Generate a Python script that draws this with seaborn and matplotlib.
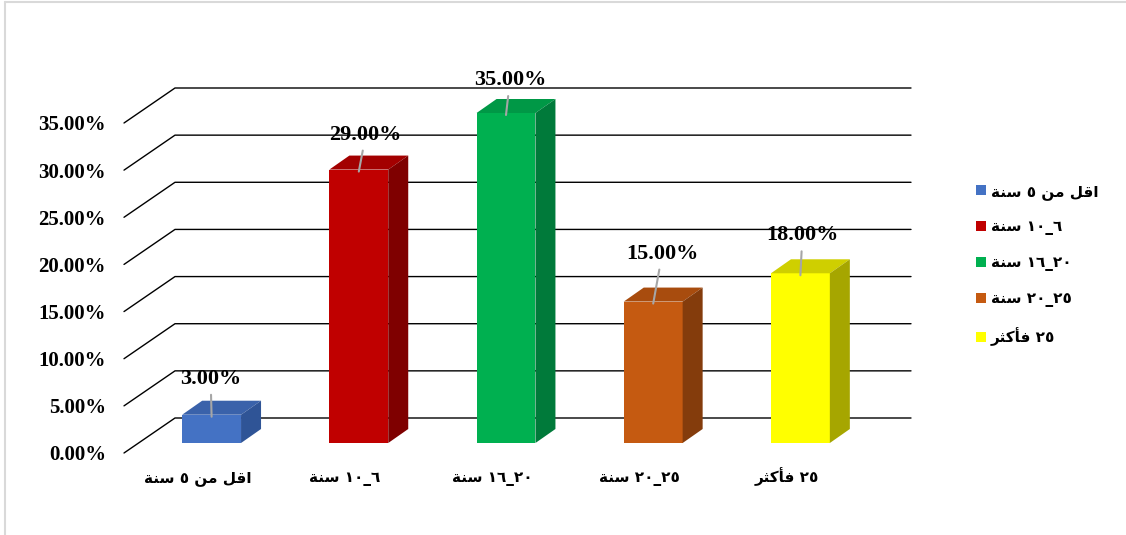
import numpy as np
import pandas as pd
import matplotlib
matplotlib.use("Agg")
import matplotlib.pyplot as plt
import seaborn as sns
from matplotlib.patches import Polygon, Patch
from matplotlib.lines import Line2D

# ---------------- data ----------------
categories = ["اقل من ٥ سنة", "٦_١٠ سنة", "٢٠_١٦ سنة", "٢٥_٢٠ سنة", "٢٥ فأكثر"]
values = [0.03, 0.29, 0.35, 0.15, 0.18]
yticks = [0.00, 0.05, 0.10, 0.15, 0.20, 0.25, 0.30, 0.35]

# ---------------- styles ----------------
front_colors = ["#4472C4", "#C00000", "#00B050", "#C55A11", "#FFFF00"]
top_colors = ["#3A62AA", "#A30000", "#009846", "#A84C0E", "#CFCF00"]
side_colors = ["#2F5496", "#7F0000", "#007A3A", "#843C0C", "#A6A600"]
label_offsets_px = [(-1, 38), (7, 37), (4, 35), (9, 50), (2, 40)]

# ---------------- minimal Arabic shaping / visual ordering ----------------
FORMS = {  # isolated, final, initial, medial
    'ا': ('\uFE8D', '\uFE8E', None, None),
    'أ': ('\uFE83', '\uFE84', None, None),
    'ة': ('\uFE93', '\uFE94', None, None),
    'ر': ('\uFEAD', '\uFEAE', None, None),
    'ق': ('\uFED5', '\uFED6', '\uFED7', '\uFED8'),
    'ل': ('\uFEDD', '\uFEDE', '\uFEDF', '\uFEE0'),
    'م': ('\uFEE1', '\uFEE2', '\uFEE3', '\uFEE4'),
    'ن': ('\uFEE5', '\uFEE6', '\uFEE7', '\uFEE8'),
    'س': ('\uFEB1', '\uFEB2', '\uFEB3', '\uFEB4'),
    'ف': ('\uFED1', '\uFED2', '\uFED3', '\uFED4'),
    'ك': ('\uFED9', '\uFEDA', '\uFEDB', '\uFEDC'),
    'ث': ('\uFE99', '\uFE9A', '\uFE9B', '\uFE9C'),
}


def shape_word(w):
    out = []
    for i, c in enumerate(w):
        f = FORMS.get(c)
        if f is None:
            out.append(c)
            continue
        prev = w[i - 1] if i > 0 else None
        nxt = w[i + 1] if i + 1 < len(w) else None
        jp = prev in FORMS and FORMS[prev][2] is not None
        jn = f[2] is not None and nxt in FORMS
        if jp and jn:
            g = f[3]
        elif jp:
            g = f[1]
        elif jn:
            g = f[2]
        else:
            g = f[0]
        out.append(g)
    return ''.join(reversed(out))


def visual(s):
    runs = []
    for c in s:
        if c in FORMS:
            kind = 'a'
        elif '\u0660' <= c <= '\u0669':
            kind = 'd'
        else:
            kind = 'o'
        if runs and runs[-1][0] == kind and kind in ('a', 'd'):
            runs[-1][1] += c
        else:
            runs.append([kind, c])
    parts = []
    for kind, txt in reversed(runs):
        parts.append(shape_word(txt) if kind == 'a' else txt)
    return ''.join(parts)


# ---------------- figure ----------------
W, H, DPI = 1126, 535, 100
sns.set_theme(style="white")
plt.rcParams['font.family'] = ['DejaVu Sans']
plt.rcParams['text.color'] = 'black'
plt.rcParams['xtick.color'] = 'black'
plt.rcParams['ytick.color'] = 'black'
fig = plt.figure(figsize=(W / DPI, H / DPI), dpi=DPI)
fig.patch.set_facecolor("white")

ax_left, ax_right, ax_top, ax_bottom = 124, 860, 123, 453
ax = fig.add_axes([ax_left / W, 1 - ax_bottom / H,
                   (ax_right - ax_left) / W, (ax_bottom - ax_top) / H])
ax.set_facecolor("none")

df = pd.DataFrame({"cat": categories, "val": values})
sns.barplot(data=df, x="cat", y="val", hue="cat", palette=front_colors,
            saturation=1, width=0.4, ax=ax, legend=False, zorder=3,
            edgecolor="none")

ax.set_xlim(-0.5, len(categories) - 0.5)
ax.set_ylim(0, 0.35)

# pixel -> data unit conversion
ux = (len(categories)) / (ax_right - ax_left)
uy = 0.35 / (ax_bottom - ax_top)

wall_dx, wall_dy = 51 * ux, 35 * uy      # full depth of the chart box
bar_ox, bar_oy = 14 * ux, 10 * uy        # offset of bar front face
bar_dx, bar_dy = 20 * ux, 14 * uy        # bar depth

x0, x1 = ax.get_xlim()
# gridlines: diagonal on left wall + horizontal on back wall
for t in yticks:
    ax.add_line(Line2D([x0, x0 + wall_dx, x1 + wall_dx], [t, t + wall_dy, t + wall_dy],
                       color="black", lw=1.0, zorder=1, clip_on=False))

ax.set_yticks(yticks)
ax.set_yticklabels([f"{t * 100:.2f}%" for t in yticks],
                   fontfamily=["Liberation Serif", "DejaVu Sans"],
                   fontweight="bold", fontsize=15, color="black")
ax.set_xticks(range(len(categories)))
ax.set_xticklabels([visual(c) for c in categories], fontfamily=["DejaVu Sans"],
                   fontweight="bold", fontsize=11, color="black")
for lbl in ax.get_xticklabels():
    lbl.set_verticalalignment("baseline")
ax.tick_params(axis="y", length=0, pad=13)
ax.tick_params(axis="x", length=0, pad=21)
ax.set_xlabel("")
ax.set_ylabel("")
for s in ax.spines.values():
    s.set_visible(False)
ax.grid(False)

# 3D faces built from seaborn's bar patches
bars = sorted(ax.patches, key=lambda p: p.get_x())
for i, p in enumerate(bars):
    bx, bw, bh = p.get_x(), p.get_width(), p.get_height()
    fx, fy = bx + bar_ox, bar_oy
    p.set_x(fx)
    p.set_y(fy)
    p.set_clip_on(False)
    ftop = fy + bh
    top = Polygon([(fx, ftop), (fx + bw, ftop), (fx + bw + bar_dx, ftop + bar_dy),
                   (fx + bar_dx, ftop + bar_dy)], closed=True,
                  facecolor=top_colors[i], edgecolor="none", zorder=3, clip_on=False)
    side = Polygon([(fx + bw, fy), (fx + bw + bar_dx, fy + bar_dy),
                    (fx + bw + bar_dx, ftop + bar_dy), (fx + bw, ftop)], closed=True,
                   facecolor=side_colors[i], edgecolor="none", zorder=3, clip_on=False)
    ax.add_patch(top)
    ax.add_patch(side)
    ox, oy = label_offsets_px[i]
    ax.annotate(f"{values[i] * 100:.2f}%", xy=(fx + bw / 2, ftop - 2 * uy),
                xytext=(ox, oy), textcoords="offset pixels",
                ha="center", va="center", fontsize=16, fontweight="bold",
                color="black",
                fontfamily=["Liberation Serif", "DejaVu Sans"], zorder=5,
                arrowprops=dict(arrowstyle="-", color="#A6A6A6", lw=1.5,
                                shrinkA=2, shrinkB=0), annotation_clip=False)

# legend
handles = [Patch(facecolor=c, edgecolor="none") for c in front_colors]
leg = fig.legend(handles, [visual(c) for c in categories],
                 loc="upper left", bbox_to_anchor=(962 / W, 1 - 170 / H),
                 frameon=False, handlelength=0.65, handleheight=0.65,
                 handletextpad=0.35, labelspacing=1.3,
                 prop=dict(family=["DejaVu Sans"], weight="bold", size=11))
for t in leg.get_texts():
    t.set_color("black")

# outer border (light grey)
fig.add_artist(Line2D([5 / W, 1], [1 - 2 / H, 1 - 2 / H], transform=fig.transFigure,
                      color="#D9D9D9", lw=1.5))
fig.add_artist(Line2D([5 / W, 5 / W], [0, 1 - 2 / H], transform=fig.transFigure,
                      color="#D9D9D9", lw=1.5))

fig.savefig("out.png", dpi=DPI)
